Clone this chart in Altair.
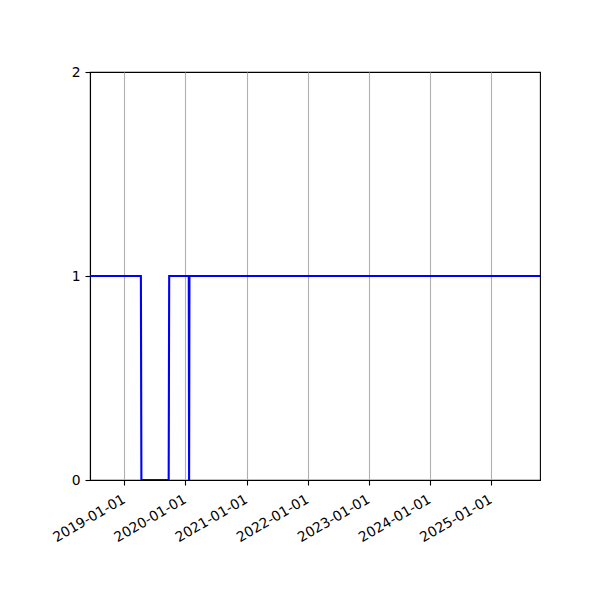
import altair as alt
import pandas as pd

dates = ["2018-06-10", "2019-04-10", "2019-04-13", "2019-09-23", "2019-09-26",
         "2020-01-21", "2020-01-23", "2020-01-25", "2025-10-19"]
values = [1, 1, 0, 0, 1, 1, 0, 1, 1]

tick_dates = ["2019-01-01", "2020-01-01", "2021-01-01", "2022-01-01",
              "2023-01-01", "2024-01-01", "2025-01-01"]
y_ticks = [0, 1, 2]

df = pd.DataFrame({"date": dates, "level": values})

def dt(s):
    y, m, d = [int(p) for p in s.split("-")]
    return alt.DateTime(year=y, month=m, date=d, utc=True)

x_scale = alt.Scale(type="utc", domain=[dt(dates[0]), dt(dates[-1])], nice=False)

chart = alt.Chart(df).mark_line(color="#0000ff", strokeWidth=2.1, clip=True).encode(
    x=alt.X("date:T", scale=x_scale, title=None,
            axis=alt.Axis(values=[dt(t) for t in tick_dates],
                          labelExpr="utcFormat(datum.value, '%Y-%m-%d')",
                          labelAngle=-30, labelAlign="right", labelBaseline="top",
                          grid=True, gridColor="#b0b0b0", gridWidth=1.1,
                          domainColor="black", tickColor="black", tickSize=5,
                          labelPadding=7, labelOffset=-4, labelFontSize=13.9,
                          labelFont="DejaVu Sans",
                          labelColor="black", labelFlush=False, labelOverlap=False)),
    y=alt.Y("level:Q", scale=alt.Scale(domain=[0, 2], nice=False, zero=False), title=None,
            axis=alt.Axis(values=y_ticks, grid=False, domainColor="black",
                          labelExpr="format(datum.value, 'd')",
                          tickColor="black", tickSize=5, labelPadding=5,
                          labelFontSize=13.9, labelFont="DejaVu Sans",
                          labelColor="black")),
).properties(
    width=450, height=408,
    padding={"left": 82, "top": 64, "right": 52, "bottom": 112},
    autosize=alt.AutoSizeParams(type="none"),
).configure_view(stroke="black", strokeWidth=1.1).configure_axis(domainWidth=1.1, tickWidth=1.1)

chart.save("out.html", embed_options={"renderer": "svg", "actions": False})
